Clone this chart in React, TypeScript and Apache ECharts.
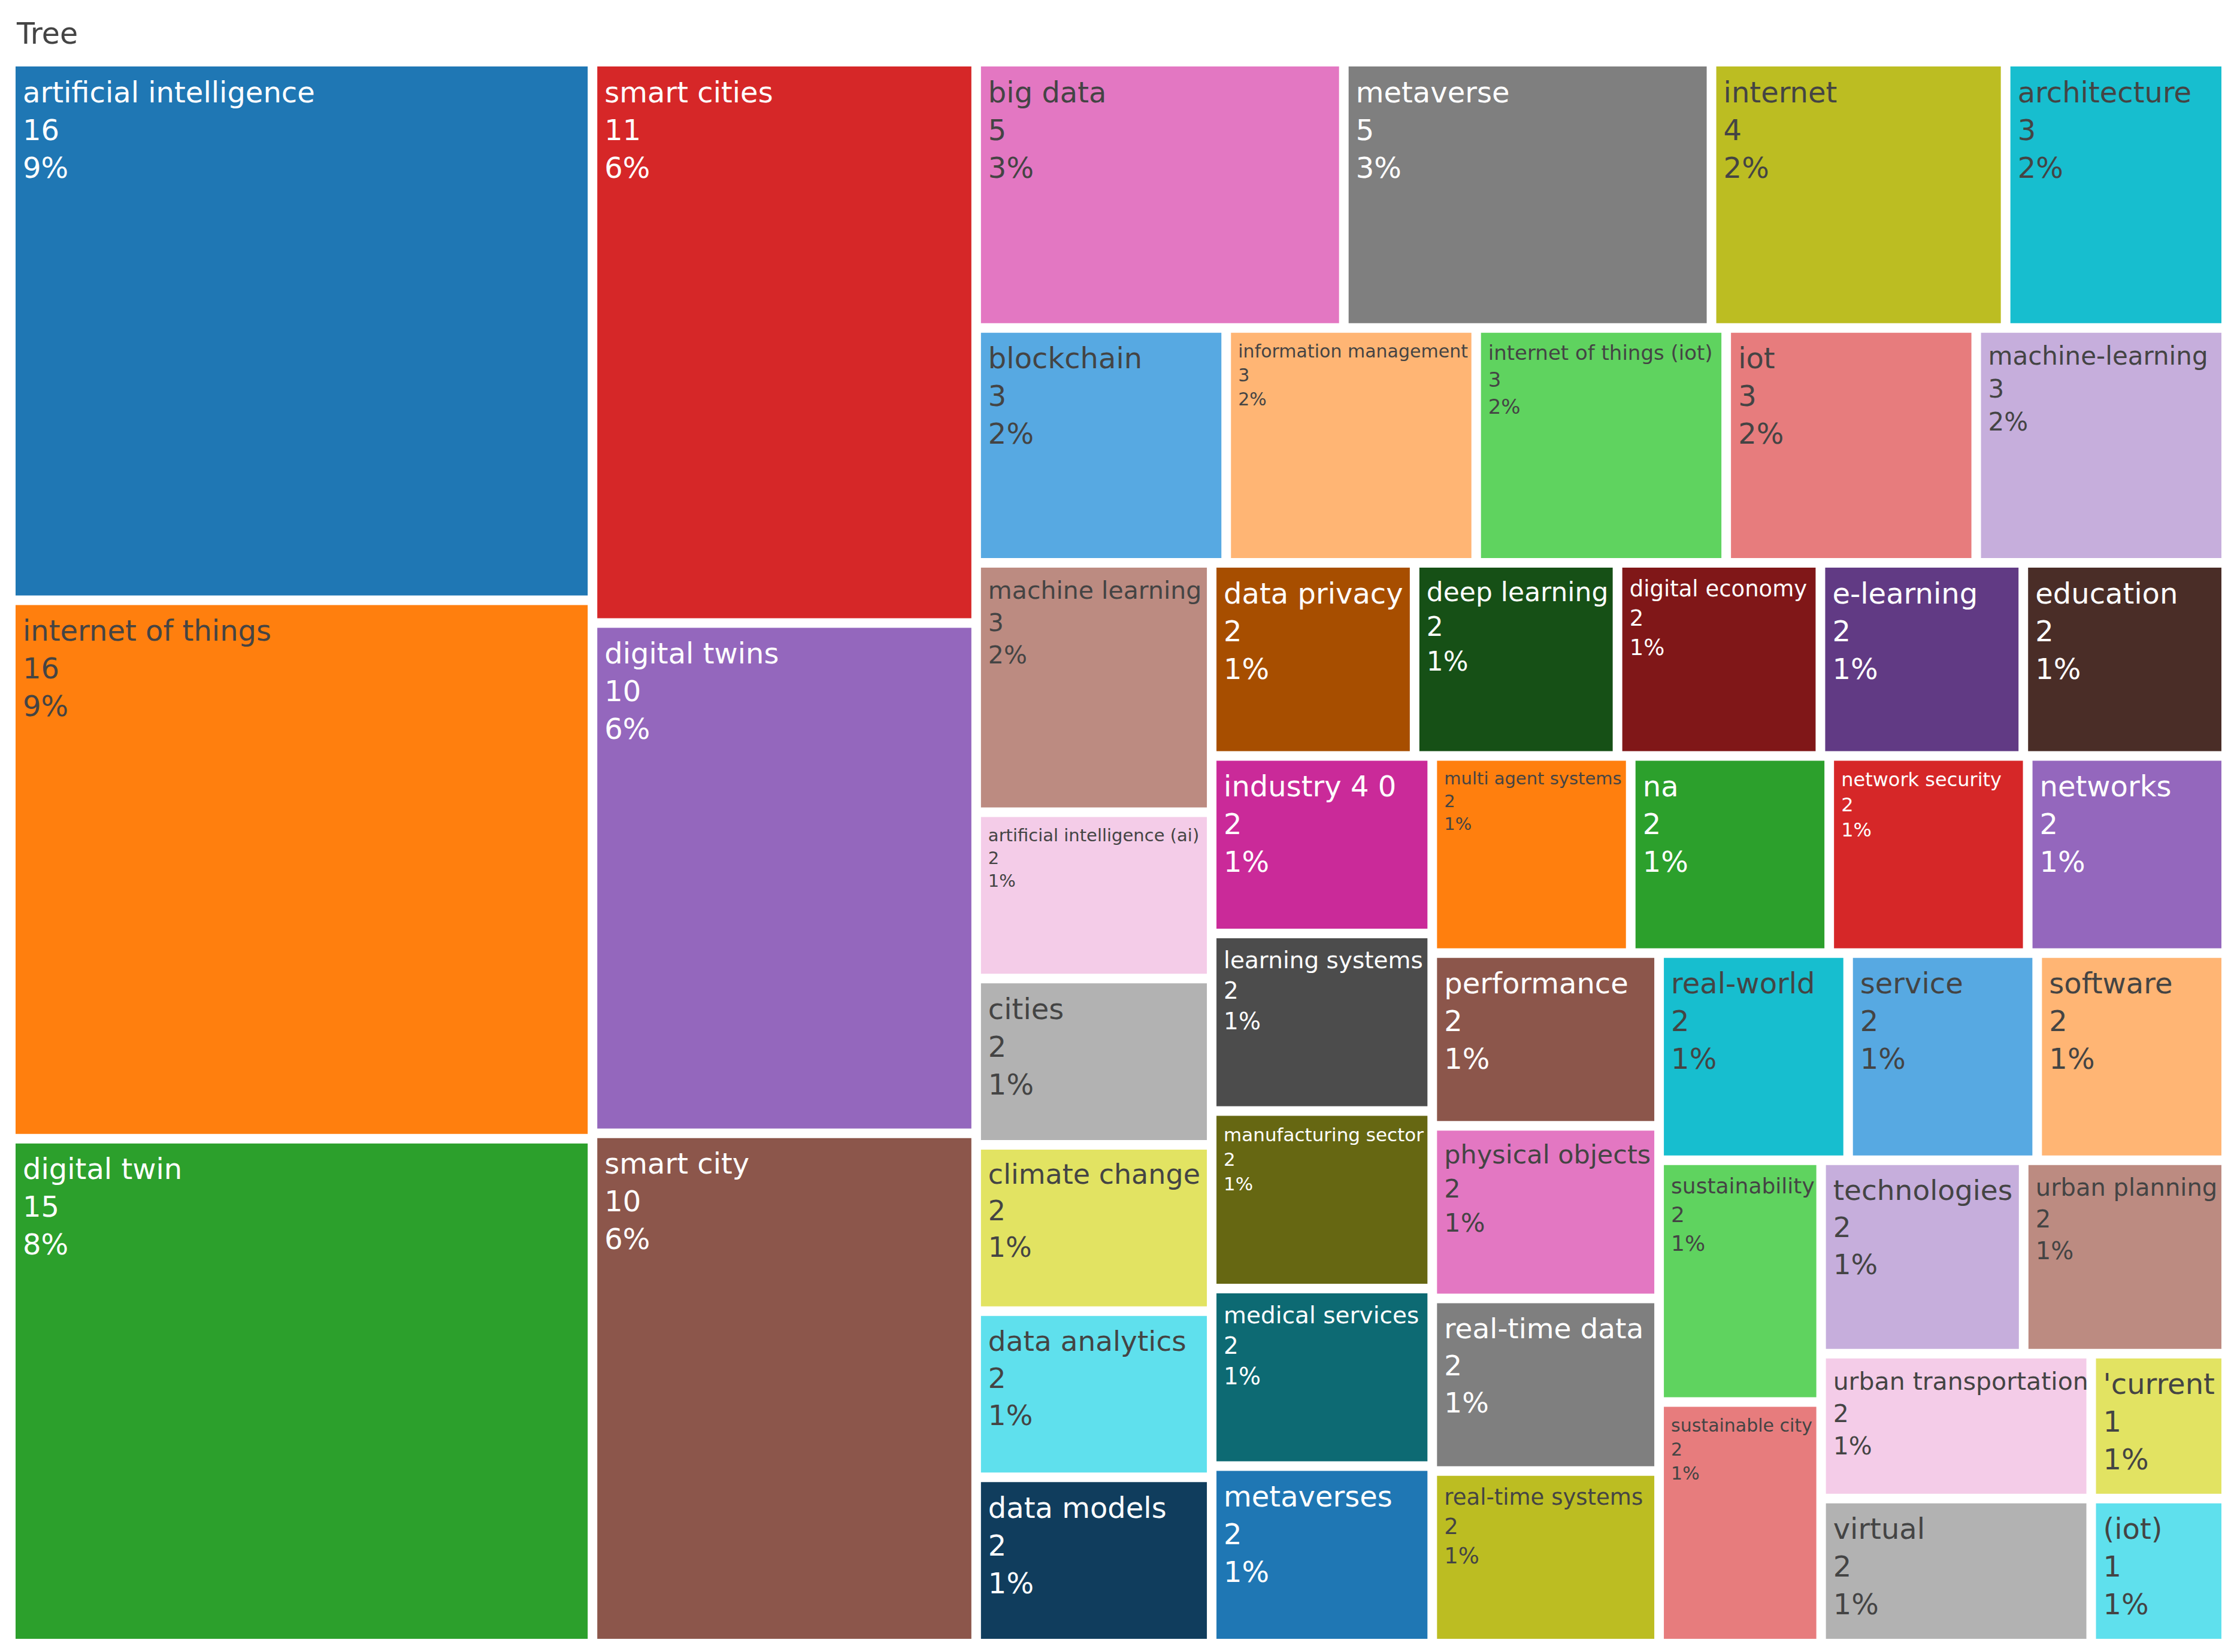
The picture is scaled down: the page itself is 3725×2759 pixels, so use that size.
import React, { useEffect, useRef } from "react";
import * as echarts from "echarts";

// ---- data ----
const categories: string[] = [
  "artificial intelligence", "internet of things", "digital twin",
  "smart cities", "digital twins", "smart city",
  "big data", "metaverse", "internet",
  "architecture", "blockchain", "information management", "internet of things (iot)", "iot", "machine-learning", "machine learning",
  "artificial intelligence (ai)", "cities", "climate change", "data analytics", "data models", "data privacy",
  "deep learning", "digital economy", "e-learning", "education", "industry 4 0", "learning systems",
  "manufacturing sector", "medical services", "metaverses", "multi agent systems", "na", "network security",
  "networks", "performance", "physical objects", "real-time data", "real-time systems", "real-world",
  "service", "software", "sustainability", "sustainable city", "technologies", "urban planning",
  "urban transportation", "virtual", "'current", "(iot)",
];
const values: number[] = [
  16, 16, 15,
  11, 10, 10,
  5, 5, 4,
  3, 3, 3, 3, 3, 3, 3,
  2, 2, 2, 2, 2, 2,
  2, 2, 2, 2, 2, 2,
  2, 2, 2, 2, 2, 2,
  2, 2, 2, 2, 2, 2,
  2, 2, 2, 2, 2, 2,
  2, 2, 1, 1,
];
const titleText = "Tree";

// ---- styles ----
const baseColorway = [
  "#1f77b4", "#ff7f0e", "#2ca02c", "#d62728", "#9467bd",
  "#8c564b", "#e377c2", "#7f7f7f", "#bcbd22", "#17becf",
];
// label font sizes fitted to the cell widths (default 48)
const labelFontSize: Record<string, number> = {
  "information management": 30,
  "internet of things (iot)": 34,
  "machine-learning": 42,
  "machine learning": 41,
  "deep learning": 44,
  "digital economy": 37,
  "artificial intelligence (ai)": 29,
  "multi agent systems": 29,
  "network security": 32,
  "learning systems": 39,
  "climate change": 46,
  "manufacturing sector": 31,
  "physical objects": 43,
  "sustainability": 36,
  "technologies": 47,
  "urban planning": 40,
  "data analytics": 47,
  "medical services": 39,
  "real-time data": 47,
  "urban transportation": 41,
  "sustainable city": 30,
  "real-time systems": 37,
};
const DEFAULT_FONT = 48;
const FONT = "'DejaVu Sans', Verdana, sans-serif";

function hexToRgb(hex: string): number[] {
  const h = hex.replace("#", "");
  return [0, 2, 4].map((i) => parseInt(h.substr(i, 2), 16));
}
function rgbToHsl(r: number, g: number, b: number): number[] {
  r /= 255; g /= 255; b /= 255;
  const max = Math.max(r, g, b), min = Math.min(r, g, b);
  let h = 0, s = 0;
  const l = (max + min) / 2;
  if (max !== min) {
    const d = max - min;
    s = l > 0.5 ? d / (2 - max - min) : d / (max + min);
    if (max === r) h = (g - b) / d + (g < b ? 6 : 0);
    else if (max === g) h = (b - r) / d + 2;
    else h = (r - g) / d + 4;
    h /= 6;
  }
  return [h, s, l];
}
function hue2rgb(p: number, q: number, t: number): number {
  if (t < 0) t += 1;
  if (t > 1) t -= 1;
  if (t < 1 / 6) return p + (q - p) * 6 * t;
  if (t < 1 / 2) return q;
  if (t < 2 / 3) return p + (q - p) * (2 / 3 - t) * 6;
  return p;
}
function hslToHex(h: number, s: number, l: number): string {
  let r: number, g: number, b: number;
  if (s === 0) { r = g = b = l; } else {
    const q = l < 0.5 ? l * (1 + s) : l + s - l * s;
    const p = 2 * l - q;
    r = hue2rgb(p, q, h + 1 / 3);
    g = hue2rgb(p, q, h);
    b = hue2rgb(p, q, h - 1 / 3);
  }
  const toHex = (x: number) => {
    const v = Math.round(x * 255).toString(16);
    return v.length === 1 ? "0" + v : v;
  };
  return "#" + toHex(r) + toHex(g) + toHex(b);
}
function shiftLightness(hex: string, amount: number): string {
  const [r, g, b] = hexToRgb(hex);
  const [h, s, l] = rgbToHsl(r, g, b);
  const nl = Math.min(1, Math.max(0, l + amount));
  return hslToHex(h, s, nl);
}
const extendedColors: string[] = [
  ...baseColorway,
  ...baseColorway.map((c) => shiftLightness(c, 0.2)),
  ...baseColorway.map((c) => shiftLightness(c, -0.2)),
];
function contrastText(hex: string): string {
  const [r, g, b] = hexToRgb(hex);
  const brightness = (r * 299 + g * 587 + b * 114) / 1000;
  return brightness >= 128 ? "#444" : "#ffffff";
}

const total = values.reduce((a, b) => a + b, 0);

export default function App() {
  const ref = useRef<HTMLDivElement>(null);
  useEffect(() => {
    if (!ref.current) return;
    const chart = echarts.init(ref.current, undefined, { renderer: "svg" });
    const data = categories.map((name, i) => {
      const color = extendedColors[i % extendedColors.length];
      const fs = labelFontSize[name] ?? DEFAULT_FONT;
      return {
        name,
        value: values[i],
        itemStyle: { color },
        label: {
          fontSize: fs,
          lineHeight: Math.round(fs * 1.32),
          color: contrastText(color),
        },
      };
    });
    chart.setOption({
      animation: false,
      title: {
        text: titleText,
        left: 20,
        top: 24,
        padding: 0,
        textStyle: {
          fontFamily: FONT,
          fontSize: 49,
          fontWeight: "normal",
          color: "#444",
          lineHeight: 49,
        },
      },
      tooltip: { show: false },
      series: [
        {
          type: "treemap",
          left: 18,
          top: 103,
          width: 3683,
          height: 2626,
          roam: false,
          nodeClick: false,
          sort: false,
          squareRatio: 1,
          breadcrumb: { show: false },
          itemStyle: { gapWidth: 16, borderWidth: 0, borderColor: "#fff" },
          label: {
            show: true,
            position: "insideTopLeft",
            distance: 0,
            padding: [11, 12, 0, 12],
            fontFamily: FONT,
            overflow: "none",
            formatter: (p: any) =>
              `${p.name}\n${p.value}\n${Math.round((p.value / total) * 100)}%`,
          },
          emphasis: { disabled: true },
          data,
        },
      ],
    });
    return () => chart.dispose();
  }, []);
  return <div ref={ref} style={{ width: 3709, height: 2743 }} />;
}
